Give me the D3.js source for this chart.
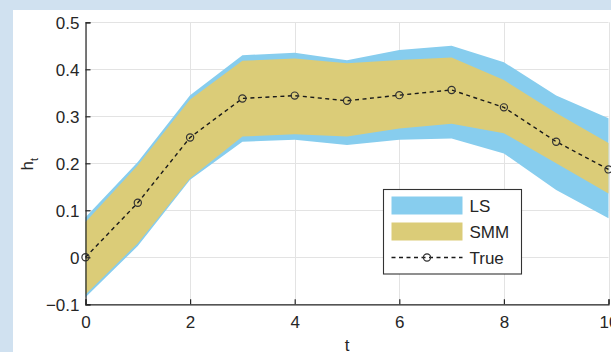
<!DOCTYPE html>
<html>
<head>
<meta charset="utf-8">
<script src="https://cdn.jsdelivr.net/npm/d3@7"></script>
<style>
  body { margin: 0; background: #d0e1f0; }
  svg { display: block; }
  text { font-family: "Liberation Sans", Arial, sans-serif; fill: #262626; }
</style>
</head>
<body>
<div id="chart"></div>
<script>
// data
var tVals = [0, 1, 2, 3, 4, 5, 6, 7, 8, 9, 10]
var trueH = [0, 0.116, 0.255, 0.338, 0.344, 0.333, 0.345, 0.356, 0.319, 0.246, 0.187]
var lsUpper = [0.085, 0.203, 0.345, 0.430, 0.435, 0.419, 0.441, 0.450, 0.415, 0.344, 0.296]
var lsLower = [-0.085, 0.024, 0.165, 0.246, 0.250, 0.239, 0.250, 0.253, 0.221, 0.143, 0.083]
var smmUpper = [0.075, 0.196, 0.336, 0.418, 0.423, 0.413, 0.420, 0.425, 0.377, 0.307, 0.243]
var smmLower = [-0.079, 0.030, 0.168, 0.257, 0.262, 0.257, 0.274, 0.284, 0.264, 0.200, 0.136]
var xTicks = [0, 2, 4, 6, 8, 10]
var yTicks = [-0.1, 0, 0.1, 0.2, 0.3, 0.4, 0.5]
var legendNames = ["LS", "SMM", "True"]

var width = 611, height = 352
var margin = {top: 22.3, right: 2, bottom: 47.7, left: 85.5}
var lsColor = "#87cdee", smmColor = "#dbcc78", axisColor = "#262626", gridColor = "#e3e3e3"

var svg = d3.select("#chart").append("svg")
    .attr("width", width)
    .attr("height", height)

// white figure panel
svg.append("rect")
    .attr("x", 13).attr("y", 10)
    .attr("width", width - 13).attr("height", height - 10)
    .attr("fill", "#ffffff")

var x = d3.scaleLinear().domain([0, 10]).range([margin.left, width - margin.right - 0.5])
var y = d3.scaleLinear().domain([-0.1, 0.5]).range([height - margin.bottom, margin.top])

// grid
svg.append("g")
  .selectAll("line.gx")
  .data(xTicks)
  .join("line")
    .attr("x1", d => Math.round(x(d)) + 0.5).attr("x2", d => Math.round(x(d)) + 0.5)
    .attr("y1", y(0.5)).attr("y2", y(-0.1))
    .attr("stroke", gridColor)
svg.append("g")
  .selectAll("line.gy")
  .data(yTicks)
  .join("line")
    .attr("y1", d => Math.round(y(d)) + 0.5).attr("y2", d => Math.round(y(d)) + 0.5)
    .attr("x1", x(0)).attr("x2", x(10))
    .attr("stroke", gridColor)

// bands
function band(lo, hi) {
  return d3.area()
    .x((d, i) => x(tVals[i]))
    .y0((d, i) => y(lo[i]))
    .y1((d, i) => y(hi[i]))(tVals)
}
svg.append("path").attr("d", band(lsLower, lsUpper)).attr("fill", lsColor)
svg.append("path").attr("d", band(smmLower, smmUpper)).attr("fill", smmColor)

// true line
svg.append("path")
    .attr("d", d3.line().x((d, i) => x(tVals[i])).y(d => y(d))(trueH))
    .attr("fill", "none")
    .attr("stroke", "#1a1a1a")
    .attr("stroke-width", 1.4)
    .attr("stroke-dasharray", "4,3.5")
svg.append("g")
  .selectAll("circle")
  .data(trueH)
  .join("circle")
    .attr("cx", (d, i) => x(tVals[i]))
    .attr("cy", d => y(d))
    .attr("r", 3.6)
    .attr("fill", "none")
    .attr("stroke", "#333333")
    .attr("stroke-width", 1.2)

// axes
var xAxis = svg.append("g")
    .attr("transform", "translate(0," + y(-0.1) + ")")
    .call(d3.axisBottom(x).tickValues(xTicks).tickSize(-5).tickPadding(12).tickFormat(d3.format("d")))
var yAxis = svg.append("g")
    .attr("transform", "translate(" + x(0) + ",0)")
    .call(d3.axisLeft(y).tickValues(yTicks).tickSize(-5).tickPadding(6).tickFormat(d => d === 0 ? "0" : d3.format(".1f")(d)))
;[xAxis, yAxis].forEach(a => {
  a.select(".domain").attr("stroke", axisColor).attr("stroke-width", 1.2)
  a.selectAll(".tick line").attr("stroke", axisColor).attr("stroke-width", 1.2)
  a.selectAll(".tick text").attr("font-size", 17).attr("fill", "#333333")
    .style("font-family", "'Liberation Sans', Arial, sans-serif")
})
yAxis.selectAll(".tick text").attr("dy", "0.36em")

// axis titles
svg.append("text")
    .attr("x", x(5)).attr("y", 351)
    .attr("text-anchor", "middle")
    .attr("font-size", 17)
    .attr("fill", "#333333")
    .text("t")
var yl = svg.append("text")
    .attr("transform", "translate(32.5," + (y(0.2) + 1) + ") rotate(-90)")
    .attr("text-anchor", "middle")
    .attr("font-size", 17)
    .attr("fill", "#333333")
yl.append("tspan").text("h")
yl.append("tspan").attr("font-size", 11).attr("dy", 5).text("t")

// legend
var lg = svg.append("g").attr("transform", "translate(383.5,189.5)")
lg.append("rect")
    .attr("width", 138).attr("height", 84.5)
    .attr("fill", "#ffffff")
    .attr("stroke", "#333333")
    .attr("stroke-width", 1.1)
var rowY = [16, 42, 68]
lg.selectAll("rect.sw")
  .data([lsColor, smmColor])
  .join("rect")
    .attr("x", 8).attr("y", (d, i) => rowY[i] - 9)
    .attr("width", 71).attr("height", 18)
    .attr("fill", d => d)
lg.append("line")
    .attr("x1", 8).attr("x2", 79).attr("y1", rowY[2]).attr("y2", rowY[2])
    .attr("stroke", "#1a1a1a").attr("stroke-width", 1.4).attr("stroke-dasharray", "4,3.5")
lg.append("circle")
    .attr("cx", 43.5).attr("cy", rowY[2]).attr("r", 3.6)
    .attr("fill", "none").attr("stroke", "#333333").attr("stroke-width", 1.2)
lg.selectAll("text")
  .data(legendNames)
  .join("text")
    .attr("x", 86).attr("y", (d, i) => rowY[i])
    .attr("dy", "0.36em")
    .attr("font-size", 17)
    .text(d => d)
</script>
</body>
</html>
